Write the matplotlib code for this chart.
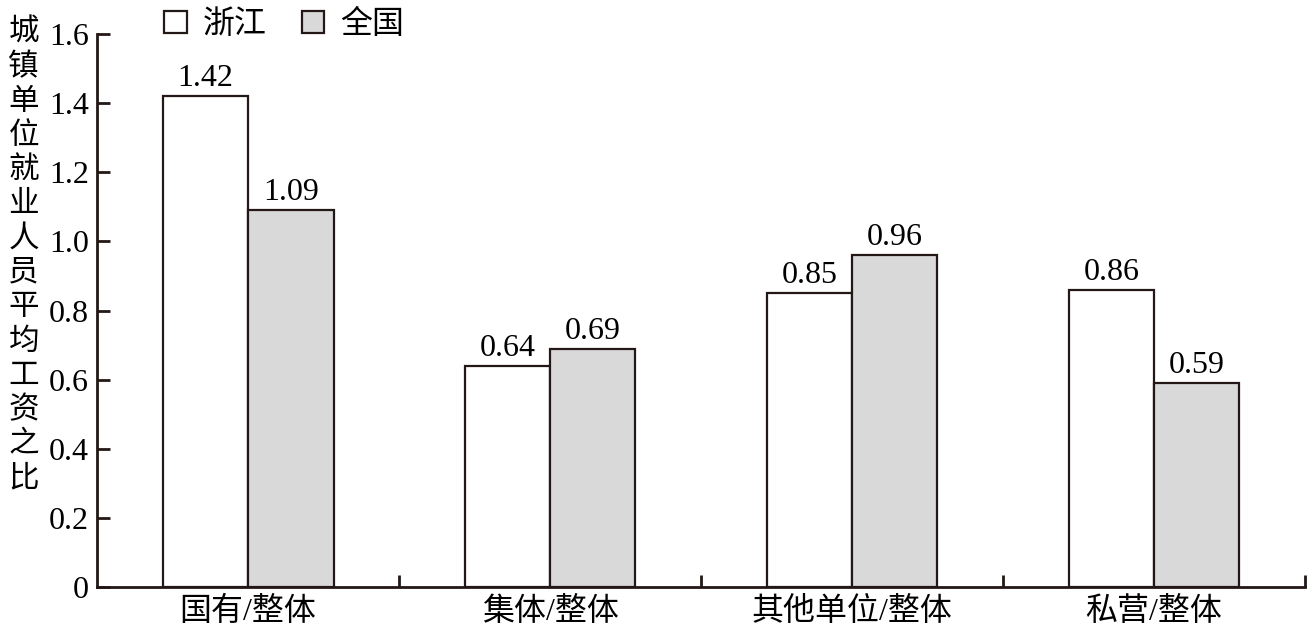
import matplotlib
matplotlib.use('Agg')
from matplotlib import pyplot as plt
from matplotlib.patches import Patch
import numpy as np

plt.rcParams['font.family'] = ['Liberation Serif', 'Noto Sans CJK SC']

categories = ['国有/整体', '集体/整体', '其他单位/整体', '私营/整体']
zhejiang = [1.42, 0.64, 0.85, 0.86]
national = [1.09, 0.69, 0.96, 0.59]
series_names = ['浙江', '全国']
y_label = '城镇单位就业人员平均工资之比'

edge = '#231815'
gray = '#d9d9d9'

fig = plt.figure(figsize=(13.15, 6.32), dpi=100)
ax = fig.add_axes([0.0738, 0.0712, 0.9186, 0.875])

x = np.arange(len(categories))
w = 0.283
b1 = ax.bar(x - w / 2, zhejiang, w, color='white', edgecolor=edge, linewidth=1.6)
b2 = ax.bar(x + w / 2, national, w, color=gray, edgecolor=edge, linewidth=1.6)

for bars, vals in [(b1, zhejiang), (b2, national)]:
    for r, v in zip(bars, vals):
        ax.annotate(f'{v:.2f}', (r.get_x() + r.get_width() / 2, v), xytext=(0, 2),
                    textcoords='offset points', ha='center', va='bottom', fontsize=23)

ax.set_xlim(-0.5, 3.5)
ax.set_ylim(0, 1.6)
ax.set_yticks(np.arange(0, 1.61, 0.2))
ax.set_yticklabels(['0'] + [f'{t:.1f}' for t in np.arange(0.2, 1.61, 0.2)])
ax.set_xticks(x)
ax.set_xticklabels(categories, fontsize=23)
ax.set_xticks([0.5, 1.5, 2.5, 3.5], minor=True)
ax.tick_params(axis='x', which='major', length=0, pad=7)
ax.tick_params(axis='x', which='minor', direction='in', length=9, width=2, color=edge)
ax.tick_params(axis='y', direction='in', length=9, width=2, color=edge, labelsize=23, pad=6)

for s in ['top', 'right']:
    ax.spines[s].set_visible(False)
for s in ['left', 'bottom']:
    ax.spines[s].set_linewidth(2)
    ax.spines[s].set_color(edge)

fig.text(0.018, 0.97, '\n'.join(y_label), ha='center', va='top', fontsize=22, linespacing=1.24)

handles = [Patch(facecolor='white', edgecolor=edge, linewidth=1.6),
           Patch(facecolor=gray, edgecolor=edge, linewidth=1.6)]
fig.legend(handles, series_names, loc='upper left', bbox_to_anchor=(0.103, 1.03), ncol=2,
           frameon=False, fontsize=23, handlelength=0.7, handleheight=0.7,
           handletextpad=0.5, columnspacing=1.1)

fig.savefig('out.png', dpi=100)
